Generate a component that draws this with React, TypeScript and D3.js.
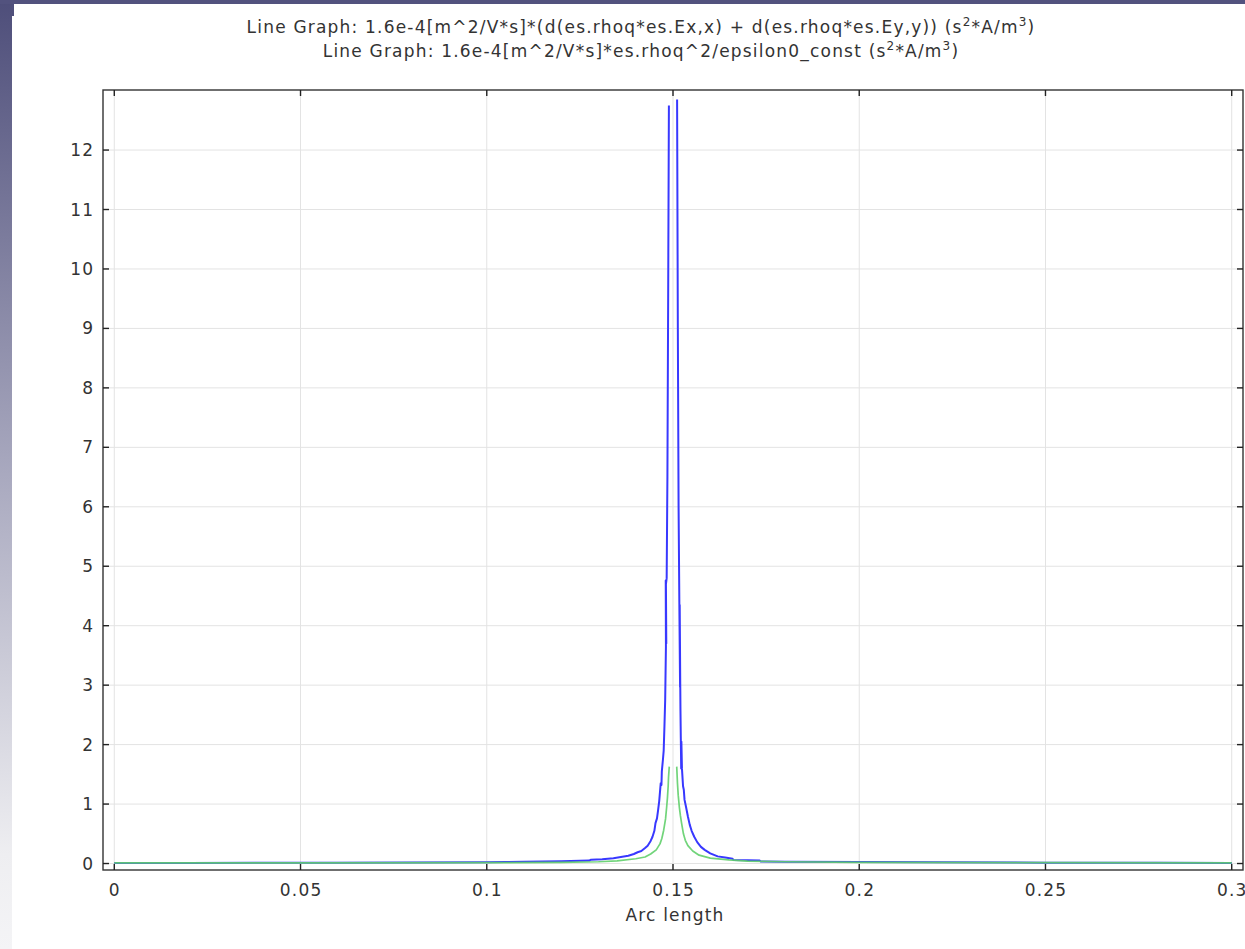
import React from "react";
import * as d3 from "d3";

const titleLine1 = "Line Graph: 1.6e-4[m^2/V*s]*(d(es.rhoq*es.Ex,x) + d(es.rhoq*es.Ey,y)) (s";
const titleLine2 = "Line Graph: 1.6e-4[m^2/V*s]*es.rhoq^2/epsilon0_const (s";
const xLabel = "Arc length";

const xTicks = [0, 0.05, 0.1, 0.15, 0.2, 0.25, 0.3];
const xTickLabels = ["0", "0.05", "0.1", "0.15", "0.2", "0.25", "0.3"];
const yTicks = [0, 1, 2, 3, 4, 5, 6, 7, 8, 9, 10, 11, 12];
const yTickLabels = ["0", "1", "2", "3", "4", "5", "6", "7", "8", "9", "10", "11", "12"];

// Blue series (divergence term), left branch up to the first spike
const blueLeft: [number, number][] = [
  [0, 0.01], [0.02, 0.01], [0.04, 0.012], [0.06, 0.014], [0.08, 0.016], [0.1, 0.02],
  [0.105, 0.025], [0.11, 0.03], [0.115, 0.035], [0.12, 0.04], [0.125, 0.045], [0.1275, 0.05],
  [0.128, 0.065], [0.131, 0.07], [0.134, 0.09], [0.136, 0.11], [0.138, 0.13], [0.1395, 0.16],
  [0.1405, 0.19], [0.1415, 0.21], [0.1425, 0.26], [0.1432, 0.3], [0.144, 0.38], [0.1445, 0.45],
  [0.145, 0.55], [0.1453, 0.68], [0.1457, 0.76], [0.146, 0.9], [0.1463, 1.05], [0.1465, 1.2],
  [0.1467, 1.35], [0.1469, 1.32], [0.147, 1.55], [0.1473, 1.75], [0.1475, 1.9], [0.1477, 2.3],
  [0.1479, 2.75], [0.1481, 3.64], [0.14805, 4.76], [0.1482, 3.7], [0.1481, 4.7], [0.1483, 4.8],
  [0.1485, 6.5], [0.1487, 9.5], [0.1489, 12.75],
];
// Blue series, right branch after the second spike
const blueRight: [number, number][] = [
  [0.1511, 12.85], [0.1513, 9.0], [0.1515, 6.0], [0.1517, 4.4], [0.1519, 2.97], [0.1518, 4.35],
  [0.15195, 3.0], [0.152, 2.6], [0.1521, 2.1], [0.1522, 1.6], [0.15225, 2.05], [0.1524, 1.6],
  [0.1527, 1.3], [0.1529, 1.24], [0.1531, 1.07], [0.1535, 0.95], [0.154, 0.79], [0.1545, 0.65],
  [0.155, 0.55], [0.1557, 0.45], [0.1565, 0.36], [0.1575, 0.28], [0.1585, 0.23], [0.16, 0.17],
  [0.162, 0.12], [0.164, 0.1], [0.166, 0.08], [0.1662, 0.06], [0.17, 0.055], [0.1733, 0.05],
  [0.1735, 0.035], [0.18, 0.03], [0.2, 0.025], [0.22, 0.02], [0.25, 0.015], [0.28, 0.012], [0.3, 0.01],
];
// Green series (rho^2/epsilon0 term)
const greenLeft: [number, number][] = [
  [0, 0.01], [0.05, 0.012], [0.1, 0.015], [0.12, 0.02], [0.13, 0.03], [0.135, 0.045],
  [0.14, 0.08], [0.1425, 0.11], [0.144, 0.16], [0.1455, 0.23], [0.1465, 0.33], [0.147, 0.42],
  [0.1475, 0.56], [0.148, 0.75], [0.1483, 0.95], [0.1485, 1.1], [0.1487, 1.3], [0.1488, 1.45],
  [0.149, 1.63],
];
const greenRight: [number, number][] = [
  [0.151, 1.63], [0.1512, 1.35], [0.1514, 1.15], [0.1517, 0.95], [0.152, 0.8], [0.1523, 0.68],
  [0.1528, 0.5], [0.1533, 0.39], [0.154, 0.3], [0.1553, 0.21], [0.157, 0.14], [0.16, 0.09],
  [0.165, 0.06], [0.17, 0.04], [0.18, 0.03], [0.2, 0.02], [0.25, 0.015], [0.3, 0.01],
];

const W = 1245;
const H = 949;
const plot = { left: 103, right: 1243, top: 90, bottom: 870 };
const FONT = "'DejaVu Sans', sans-serif";
const FS = 17;
const LS = 1.2;

export default function App() {
  const x = d3.scaleLinear().domain([-0.00303, 0.30303]).range([plot.left, plot.right]);
  const y = d3.scaleLinear().domain([-0.109, 13.01]).range([plot.bottom, plot.top]);
  const line = d3
    .line<[number, number]>()
    .x((d) => x(d[0]))
    .y((d) => y(d[1]));

  const tickLen = 6;
  const textColor = "#333";
  const sup = (s: string) => (
    <tspan fontSize={12} dy={-7}>
      {s}
    </tspan>
  );
  return (
    <svg
      width={W}
      height={H}
      style={{ position: "absolute", left: 0, top: 0, display: "block" }}
      fontFamily={FONT}
      letterSpacing={LS}
    >
      <defs>
        <linearGradient id="sideGrad" x1="0" y1="0" x2="0" y2="1">
          <stop offset="0" stopColor="#4e4e7a" />
          <stop offset="0.5" stopColor="#a9a9bf" />
          <stop offset="0.9" stopColor="#eeeef1" />
          <stop offset="1" stopColor="#f4f4f6" />
        </linearGradient>
        <clipPath id="plotClip">
          <rect x={plot.left} y={plot.top} width={plot.right - plot.left} height={plot.bottom - plot.top} />
        </clipPath>
      </defs>
      <rect x={0} y={0} width={W} height={H} fill="#ffffff" />
      <rect x={0} y={0} width={12} height={H} fill="url(#sideGrad)" />
      <rect x={0} y={0} width={W} height={4} fill="#52527e" />
      <rect x={12} y={4} width={2} height={12} fill="#50507c" />

      {/* titles */}
      <text x={641} y={33} textAnchor="middle" fontSize={FS} fill={textColor}>
        {titleLine1}
        {sup("2")}
        <tspan dy={7}>*A/m</tspan>
        {sup("3")}
        <tspan dy={7}>)</tspan>
      </text>
      <text x={641} y={57} textAnchor="middle" fontSize={FS} fill={textColor}>
        {titleLine2}
        {sup("2")}
        <tspan dy={7}>*A/m</tspan>
        {sup("3")}
        <tspan dy={7}>)</tspan>
      </text>

      {/* grid */}
      {xTicks.map((t) => (
        <line key={"gx" + t} x1={x(t)} x2={x(t)} y1={plot.top} y2={plot.bottom} stroke="#e3e3e3" strokeWidth={1} />
      ))}
      {yTicks.map((t) => (
        <line key={"gy" + t} x1={plot.left} x2={plot.right} y1={y(t)} y2={y(t)} stroke="#e3e3e3" strokeWidth={1} />
      ))}

      {/* data */}
      <g clipPath="url(#plotClip)" fill="none" strokeLinejoin="round">
        <path d={line(blueLeft) || ""} stroke="#3838ff" strokeWidth={2} />
        <path d={line(blueRight) || ""} stroke="#3838ff" strokeWidth={2} />
        <path d={line(greenLeft) || ""} stroke="#62cf6c" strokeWidth={1.7} strokeOpacity={0.9} />
        <path d={line(greenRight) || ""} stroke="#62cf6c" strokeWidth={1.7} strokeOpacity={0.9} />
      </g>

      {/* frame */}
      <rect
        x={plot.left}
        y={plot.top}
        width={plot.right - plot.left}
        height={plot.bottom - plot.top}
        fill="none"
        stroke="#333"
        strokeWidth={1.4}
      />
      {/* ticks */}
      {xTicks.map((t) => (
        <g key={"tx" + t}>
          <line x1={x(t)} x2={x(t)} y1={plot.bottom} y2={plot.bottom - tickLen} stroke="#222" strokeWidth={1.4} />
          <line x1={x(t)} x2={x(t)} y1={plot.top} y2={plot.top + tickLen} stroke="#222" strokeWidth={1.4} />
        </g>
      ))}
      {yTicks.map((t) => (
        <g key={"ty" + t}>
          <line x1={plot.left} x2={plot.left + tickLen} y1={y(t)} y2={y(t)} stroke="#222" strokeWidth={1.4} />
          <line x1={plot.right} x2={plot.right - tickLen} y1={y(t)} y2={y(t)} stroke="#222" strokeWidth={1.4} />
        </g>
      ))}

      {/* tick labels */}
      {xTicks.map((t, i) => (
        <text key={"lx" + t} x={x(t) + LS / 2} y={896} textAnchor="middle" fontSize={FS} fill={textColor}>
          {xTickLabels[i]}
        </text>
      ))}
      {yTicks.map((t, i) => (
        <text key={"ly" + t} x={93 + LS} y={y(t) + 6} textAnchor="end" fontSize={FS} fill={textColor}>
          {yTickLabels[i]}
        </text>
      ))}
      <text x={675} y={921} textAnchor="middle" fontSize={FS} fill={textColor}>
        {xLabel}
      </text>
    </svg>
  );
}
